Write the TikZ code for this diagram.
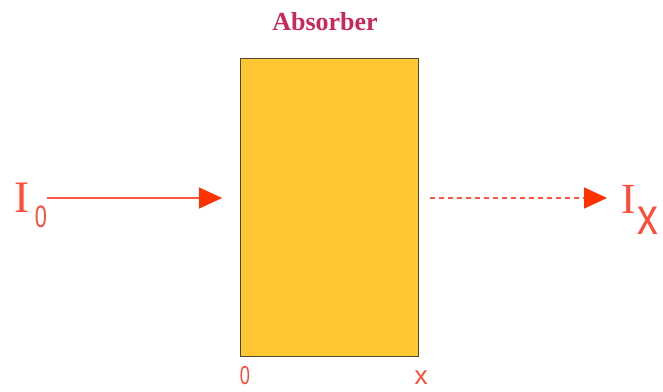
\documentclass[tikz,border=0pt]{standalone}
\usepackage{fontspec}
\setmainfont{Liberation Serif}
\newfontfamily\lsans{Liberation Sans}
\usetikzlibrary{arrows.meta}
\definecolor{txtred}{RGB}{255,75,55}
\definecolor{linered}{RGB}{255,85,65}
\definecolor{headred}{RGB}{255,50,0}
\definecolor{abscol}{RGB}{200,40,90}
\definecolor{absfill}{RGB}{255,200,50}
\definecolor{boxedge}{RGB}{80,70,50}
\begin{document}
\begin{tikzpicture}[x=1pt,y=-1pt,
  lab/.style={inner sep=0pt,outer sep=0pt,text=txtred},
  beam/.style={draw=linered,line width=1.5pt,-{Triangle[length=23pt,width=21pt,color=headred,fill=headred]}},
  dbeam/.style={beam,dash pattern=on 5pt off 4pt}]
\useasboundingbox (0,0) rectangle (663,391);
\node[draw=boxedge,fill=absfill,line width=1.2pt,minimum width=178pt,minimum height=298pt,inner sep=0pt,anchor=north west] (abs) at (240,58) {};
\node[lab,text=abscol,anchor=base,font=\bfseries\fontsize{26}{26}\selectfont] (title) at (325,30) {Absorber};
\node[lab,anchor=base west] (I0) at (14,212) {\fontsize{45}{45}\selectfont I\hspace{6pt}\raisebox{-15pt}{\lsans\fontsize{31}{31}\selectfont\scalebox{0.7}[1]{0}}};
\node[lab,anchor=base west] (Ix) at (621,213) {\fontsize{43}{43}\selectfont I\hspace{2pt}\raisebox{-21pt}{\lsans\fontsize{52}{52}\selectfont\scalebox{0.8}[1]{x}}};
\node[lab,anchor=base] (z) at (245,384) {\lsans\fontsize{26}{26}\selectfont\scalebox{0.7}[1]{0}};
\node[lab,anchor=base] (xl) at (421,384) {\lsans\fontsize{26}{26}\selectfont x};
\coordinate (inS) at (47,198);
\coordinate (inE) at (222,198);
\coordinate (outS) at (430,198);
\coordinate (outE) at (607,198);
\draw[beam] (inS) -- (inE);
\draw[dbeam] (outS) -- (outE);
\end{tikzpicture}
\end{document}
